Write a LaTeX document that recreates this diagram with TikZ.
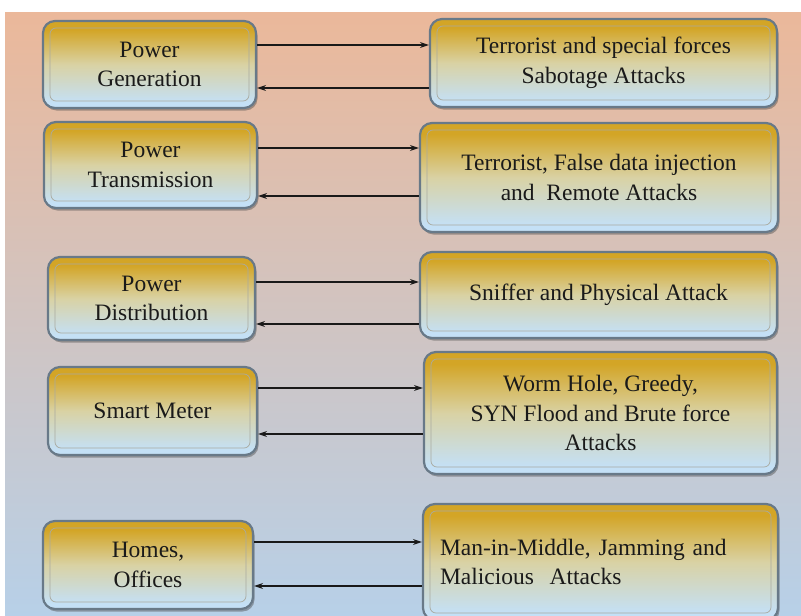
\documentclass[tikz,border=0pt]{standalone}
\usepackage{fontspec}
\setmainfont{Liberation Serif}
\usetikzlibrary{shadows,arrows.meta}

\definecolor{bgtop}{HTML}{EBB89A}
\definecolor{bgbot}{HTML}{B7D0E8}
\definecolor{boxgold}{HTML}{D3A526}
\definecolor{boxpale}{HTML}{D9D2A4}
\definecolor{boxblue}{HTML}{C4E0F6}
\definecolor{rim}{HTML}{687988}
\definecolor{inner}{HTML}{A9AAA0}
\definecolor{ink}{HTML}{1A1A1A}

% vertical shading of the boxes: blue at the foot, gold at the head
\pgfdeclareverticalshading{boxshade}{100bp}{%
  color(0bp)=(boxblue); color(28bp)=(boxblue); color(50bp)=(boxpale);
  color(70bp)=(boxgold); color(92bp)=(boxgold); color(100bp)=(boxgold!85!black)}

\tikzset{
  panel/.style={
    rounded corners=12pt, draw=rim, line width=2.2pt,
    shading=boxshade,
    drop shadow={shadow xshift=1.5pt, shadow yshift=-2.5pt, opacity=0.45, fill=black!70},
    text=ink, font=\fontsize{23.5}{29.5}\selectfont, align=center, inner sep=0pt,
    path picture={
      \draw[inner, line width=0.7pt, rounded corners=6pt]
        ([shift={(7pt,-7pt)}]path picture bounding box.north west) rectangle
        ([shift={(-7pt,7pt)}]path picture bounding box.south east);
    }
  },
  conn/.style={draw=black!90, line width=1.1pt, -{Stealth[length=9pt,width=6pt]}}
}

\begin{document}
\begin{tikzpicture}[x=1pt,y=-1pt]
\useasboundingbox (0,0) rectangle (801,616);
% background wash
\shade[top color=bgtop, bottom color=bgbot] (5,12) rectangle (801,616);

% system components
\node[panel, minimum width=213pt, minimum height=87pt] (gen) at (149.5,64.5) {Power\\Generation};
\node[panel, minimum width=213pt, minimum height=86pt] (trans) at (150.5,165) {Power\\Transmission};
\node[panel, minimum width=207pt, minimum height=83pt] (dist) at (151.5,298.5) {Power\\Distribution};
\node[panel, minimum width=209pt, minimum height=88pt] (meter) at (152.5,411) {Smart Meter};
\node[panel, minimum width=210pt, minimum height=88pt] (homes) at (148,565) {Homes,\\Offices};

% attacks on each component
\node[panel, minimum width=347pt, minimum height=88pt] (agen) at (603.5,63) {Terrorist and special forces\\Sabotage Attacks};
\node[panel, minimum width=358pt, minimum height=109pt] (atrans) at (599,177.5) {Terrorist, False data injection\\and\ \ Remote Attacks};
\node[panel, minimum width=357pt, minimum height=86pt] (adist) at (598.5,295) {Sniffer and Physical Attack};
\node[panel, minimum width=353pt, minimum height=122pt] (ameter) at (600.5,413) {Worm Hole, Greedy,\\SYN Flood and Brute force\\Attacks};
\node[panel, minimum width=355pt, minimum height=116pt, align=left, text width=321pt] (ahomes) at (600.5,562)
  {Man-in-Middle, Jamming and\\Malicious\ \ Attacks};

% connectors: forward above, return below
\draw[conn] ([yshift=19.5pt]gen.east) -- ([yshift=19.5pt]gen.east -| agen.west);
\draw[conn] ([yshift=-23.5pt]gen.east -| agen.west) -- ([yshift=-23.5pt]gen.east);
\draw[conn] ([yshift=17pt]trans.east) -- ([yshift=17pt]trans.east -| atrans.west);
\draw[conn] ([yshift=-31pt]trans.east -| atrans.west) -- ([yshift=-31pt]trans.east);
\draw[conn] ([yshift=16.5pt]dist.east) -- ([yshift=16.5pt]dist.east -| adist.west);
\draw[conn] ([yshift=-25.5pt]dist.east -| adist.west) -- ([yshift=-25.5pt]dist.east);
\draw[conn] ([yshift=23pt]meter.east) -- ([yshift=23pt]meter.east -| ameter.west);
\draw[conn] ([yshift=-23pt]meter.east -| ameter.west) -- ([yshift=-23pt]meter.east);
\draw[conn] ([yshift=23pt]homes.east) -- ([yshift=23pt]homes.east -| ahomes.west);
\draw[conn] ([yshift=-21pt]homes.east -| ahomes.west) -- ([yshift=-21pt]homes.east);
\end{tikzpicture}
\end{document}
